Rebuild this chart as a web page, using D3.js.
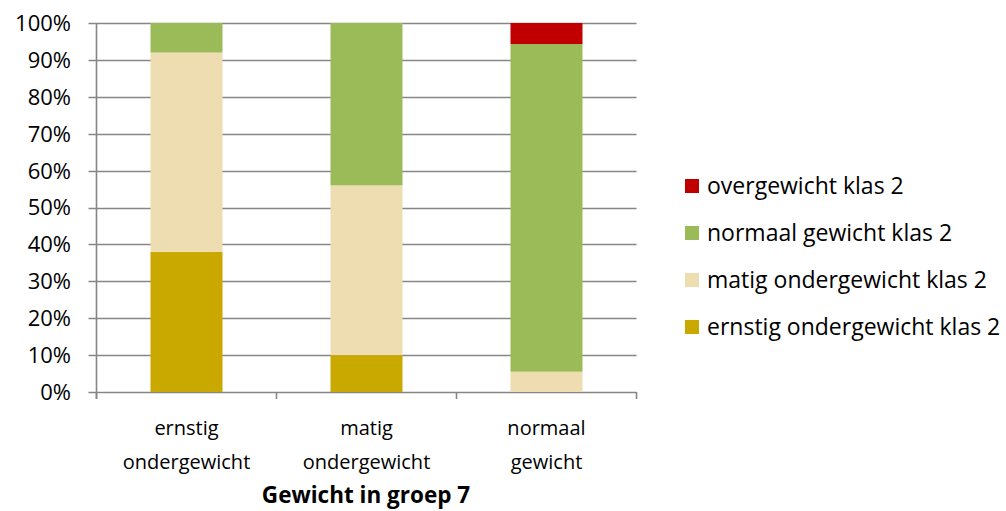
<!DOCTYPE html>
<html>
<head>
<meta charset="utf-8">
<script src="https://cdn.jsdelivr.net/npm/d3@7"></script>
<style>
  body { margin: 0; background: #fff; }
  svg text { font-family: "Open Sans", sans-serif; fill: #000; }
</style>
</head>
<body>
<svg width="1006" height="511"></svg>
<script>
// categories on the x axis (two lines each)
var categories = ['ernstig ondergewicht', 'matig ondergewicht', 'normaal gewicht'];
var categoryLines = [['ernstig', 'ondergewicht'], ['matig', 'ondergewicht'], ['normaal', 'gewicht']];

// series, bottom to top
var seriesNames = ['ernstig ondergewicht klas 2', 'matig ondergewicht klas 2', 'normaal gewicht klas 2', 'overgewicht klas 2'];
var seriesColors = ['#C9A900', '#EEDDB0', '#9BBB59', '#C00000'];

// shares per category, same order as seriesNames
var ernstigValues = [0.38, 0.10, 0.0];
var matigValues = [0.54, 0.46, 0.055];
var normaalValues = [0.08, 0.44, 0.888];
var overValues = [0.0, 0.0, 0.057];

var yTicks = [0, 0.1, 0.2, 0.3, 0.4, 0.5, 0.6, 0.7, 0.8, 0.9, 1.0];

var rows = categories.map(function(c, i) {
  return {
    cat: c,
    'ernstig ondergewicht klas 2': ernstigValues[i],
    'matig ondergewicht klas 2': matigValues[i],
    'normaal gewicht klas 2': normaalValues[i],
    'overgewicht klas 2': overValues[i]
  };
});

var svg = d3.select('svg');
var plotLeft = 96.5, plotRight = 636.5, plotTop = 23, plotBottom = 392;

var x = d3.scaleBand()
  .domain(categories)
  .range([plotLeft, plotRight])
  .paddingInner(0.6)
  .paddingOuter(0.3);

var y = d3.scaleLinear().domain([0, 1]).range([plotBottom, plotTop]);

var layers = d3.stack().keys(seriesNames)(rows);

// gridlines
svg.append('g')
  .selectAll('line.grid')
  .data(yTicks)
  .enter()
    .append('line')
    .attr('x1', plotLeft - 8)
    .attr('x2', plotRight)
    .attr('y1', function(d) { return Math.round(y(d)) + 0.5; })
    .attr('y2', function(d) { return Math.round(y(d)) + 0.5; })
    .attr('stroke', '#868686')
    .attr('stroke-width', 1.6);

// bars
svg.append('g')
  .selectAll('g.layer')
  .data(layers)
  .enter()
    .append('g')
    .attr('fill', function(d, i) { return seriesColors[i]; })
    .selectAll('rect')
    .data(function(d) { return d; })
    .enter()
      .append('rect')
      .attr('x', function(d) { return x(d.data.cat); })
      .attr('width', x.bandwidth())
      .attr('y', function(d) { return y(d[1]); })
      .attr('height', function(d) { return y(d[0]) - y(d[1]); });

// y axis line
svg.append('line')
  .attr('x1', plotLeft).attr('x2', plotLeft)
  .attr('y1', plotTop).attr('y2', plotBottom + 7)
  .attr('stroke', '#868686').attr('stroke-width', 1.6);

// bottom axis ticks between categories
var catTicks = [plotLeft, plotLeft + x.step(), plotLeft + 2 * x.step(), plotRight];
svg.append('g')
  .selectAll('line')
  .data(catTicks)
  .enter()
    .append('line')
    .attr('x1', function(d) { return d; })
    .attr('x2', function(d) { return d; })
    .attr('y1', plotBottom)
    .attr('y2', plotBottom + 7)
    .attr('stroke', '#868686')
    .attr('stroke-width', 1.6);

// y tick labels
svg.append('g')
  .selectAll('text')
  .data(yTicks)
  .enter()
    .append('text')
    .attr('x', 71)
    .attr('y', function(d) { return y(d); })
    .attr('dy', '0.36em')
    .attr('text-anchor', 'end')
    .style('font-size', '22px')
    .text(function(d) { return d3.format('.0%')(d); });

// x category labels
var catLabels = svg.append('g')
  .selectAll('text')
  .data(categories)
  .enter()
    .append('text')
    .attr('text-anchor', 'middle')
    .style('font-size', '20px');

catLabels.selectAll('tspan')
  .data(function(d, i) { return categoryLines[i].map(function(t) { return {t: t, c: d}; }); })
  .enter()
    .append('tspan')
    .attr('x', function(d) { return x(d.c) + x.bandwidth() / 2; })
    .attr('y', function(d, j) { return 435 + j * 34; })
    .text(function(d) { return d.t; });

// axis title
svg.append('text')
  .attr('x', 366)
  .attr('y', 503)
  .attr('text-anchor', 'middle')
  .style('font-size', '22.5px')
  .style('font-weight', 'bold')
  .text('Gewicht in groep 7');

// legend, top series first
var legendItems = seriesNames.slice().reverse();
var legend = svg.append('g')
  .selectAll('g.legend')
  .data(legendItems)
  .enter()
    .append('g')
    .attr('transform', function(d, i) { return 'translate(685,' + (186 + i * 47) + ')'; });

legend.append('rect')
  .attr('x', 0).attr('y', -7)
  .attr('width', 14).attr('height', 14)
  .attr('fill', function(d) { return seriesColors[seriesNames.indexOf(d)]; });

legend.append('text')
  .attr('x', 22)
  .attr('y', 0)
  .attr('dy', '0.36em')
  .style('font-size', '23px')
  .text(function(d) { return d; });
</script>
</body>
</html>
